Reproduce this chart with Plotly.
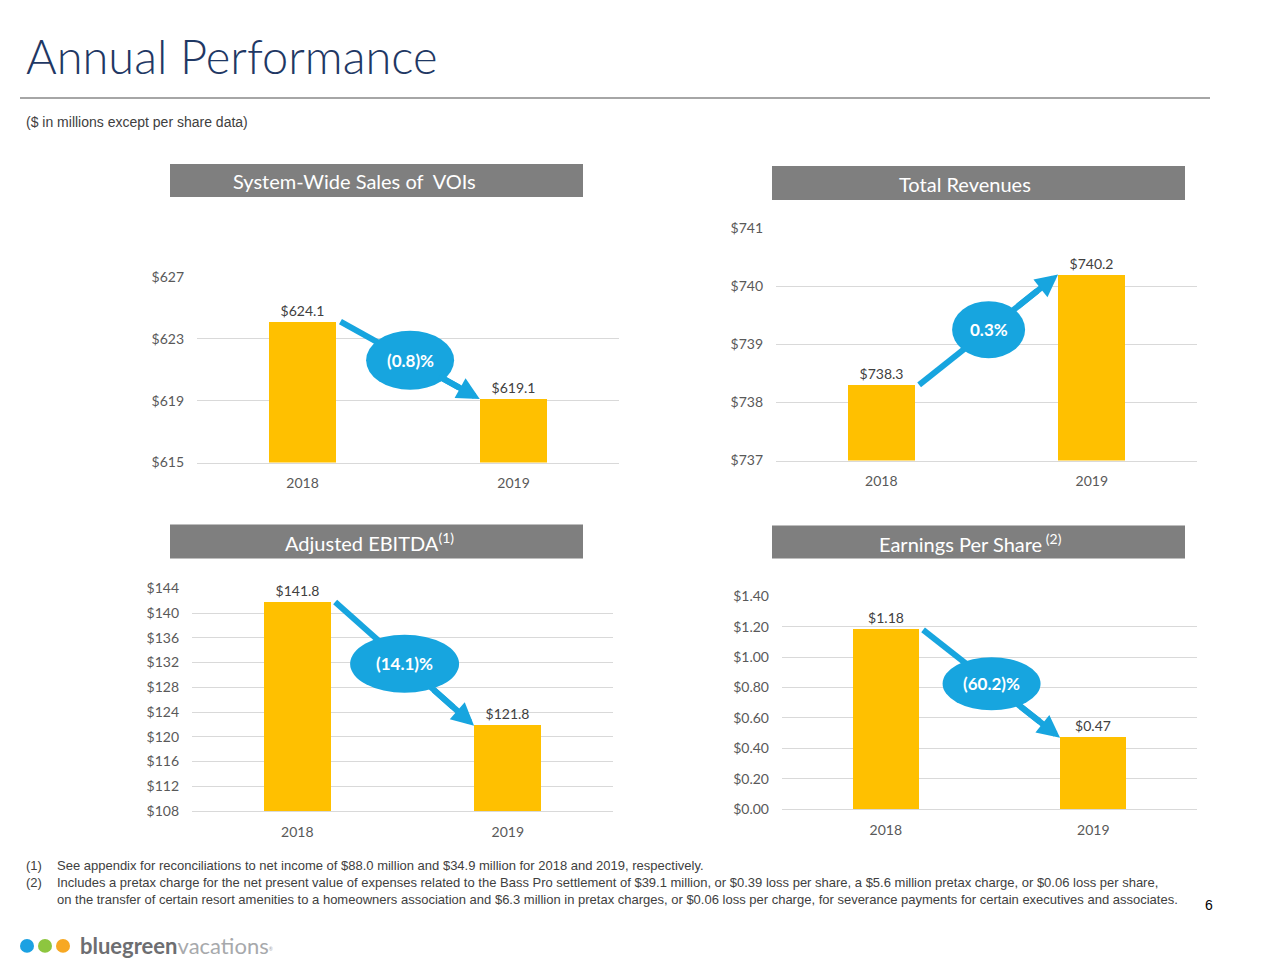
import plotly.graph_objects as go

# ---------------- data ----------------
years = ["2018", "2019"]
sales_vois = [624.1, 619.1]
total_revenues = [738.3, 740.2]
adj_ebitda = [141.8, 121.8]
eps = [1.18, 0.47]
change_labels = ["(0.8)%", "0.3%", "(14.1)%", "(60.2)%"]
panel_titles = ["System-Wide Sales of  VOIs", "Total Revenues",
                "Adjusted EBITDA<sup>(1)</sup>", "Earnings Per Share<sup> (2)</sup>"]

W, H = 1280, 960
BAR = "#FFC000"
BLUE = "#17A5DF"
GRID = "#D9D9D9"
TICK = "#595959"
FONT = "Lato, 'Open Sans', sans-serif"


def px(x):
    return x / W


def py(y):
    # vertical position on the page (pixels from top) -> paper fraction
    yy = y * (H + 16) / H - 8
    return 1 - yy / H


panels = [
    dict(vals=sales_vois, rng=[615, 627], dtick=4, dec=1, xd=(197, 619), yd=(276, 462),
         box=(170, 163, 583, 196), tx=354, ell=(88, 59)),
    dict(vals=total_revenues, rng=[737, 741], dtick=1, dec=1, xd=(776, 1197), yd=(227, 460),
         box=(772, 165, 1185, 199), tx=965, ell=(73, 57)),
    dict(vals=adj_ebitda, rng=[108, 144], dtick=4, dec=1, xd=(192, 613), yd=(588, 811),
         box=(170, 524, 583, 558), tx=369, ell=(109, 58)),
    dict(vals=eps, rng=[0, 1.4], dtick=0.2, dec=2, xd=(782, 1197), yd=(596, 809),
         box=(772, 525, 1185, 558), tx=970, ell=(98, 53)),
]

fig = go.Figure()
layout = {}
for i, p in enumerate(panels):
    n = "" if i == 0 else str(i + 1)
    xa, ya = "x" + n, "y" + n
    fig.add_trace(go.Bar(
        x=[0, 1], y=p["vals"], xaxis=xa, yaxis=ya, width=0.32,
        marker=dict(color=BAR, line=dict(width=0)),
        text=[f"${v:.{p['dec']}f}" for v in p["vals"]],
        textposition="outside", constraintext="none", cliponaxis=False,
        textfont=dict(family=FONT, size=14, color="#404040"),
        showlegend=False, hoverinfo="skip"))
    layout["xaxis" + n] = dict(
        domain=[px(p["xd"][0]), px(p["xd"][1])], anchor=ya, range=[-0.5, 1.5],
        tickvals=[0, 1], ticktext=years, showgrid=False, zeroline=False,
        showline=True, linecolor=GRID, linewidth=1, ticks="", ticklabelstandoff=8,
        tickfont=dict(family=FONT, size=14, color=TICK), fixedrange=True)
    layout["yaxis" + n] = dict(
        domain=[py(p["yd"][1]), py(p["yd"][0])], anchor=xa, range=p["rng"],
        dtick=p["dtick"], tick0=p["rng"][0], tickprefix="$",
        tickformat=".2f" if p["dec"] == 2 else "d",
        showgrid=True, gridcolor=GRID, gridwidth=1, zeroline=False, showline=False,
        ticks="", ticklabelstandoff=12,
        tickfont=dict(family=FONT, size=14, color=TICK), fixedrange=True)

fig.update_layout(**layout)

shapes = []
annotations = []

# header boxes and titles
for i, p in enumerate(panels):
    x0, y0, x1, y1 = p["box"]
    shapes.append(dict(type="rect", xref="paper", yref="paper",
                       x0=px(x0), x1=px(x1), y0=py(y1), y1=py(y0),
                       fillcolor="#7F7F7F", line=dict(width=0), layer="below"))
    annotations.append(dict(xref="paper", yref="paper", x=px(p["tx"]), y=py((y0 + y1) / 2 + 1),
                            text=panel_titles[i], showarrow=False, xanchor="center",
                            yanchor="middle",
                            font=dict(family="Lato, sans-serif", size=20, color="white")))

# change arrows + ellipses
for i, p in enumerate(panels):
    n = "" if i == 0 else str(i + 1)
    xa, ya = "x" + n, "y" + n
    v0, v1 = p["vals"]
    tx0, tx1 = 0.18, 0.84

    def pt(t):
        return tx0 + t * (tx1 - tx0), v0 + t * (v1 - v0)

    sx, sy = pt(0.85)
    shapes.append(dict(type="line", xref=xa, yref=ya, x0=tx0, y0=v0, x1=sx, y1=sy,
                       line=dict(color=BLUE, width=6), layer="above"))
    ax_, ay_ = pt(0.7)
    annotations.append(dict(xref=xa, yref=ya, axref=xa, ayref=ya, x=tx1, y=v1,
                            ax=ax_, ay=ay_, text="", showarrow=True, arrowhead=2,
                            arrowsize=0.75, arrowwidth=6, arrowcolor=BLUE, standoff=0))
    mx, my = pt(0.5)
    ew, eh = p["ell"]
    shapes.append(dict(type="circle", xref=xa, yref=ya, xsizemode="pixel", ysizemode="pixel",
                       xanchor=mx, yanchor=my, x0=-ew / 2, x1=ew / 2, y0=-eh / 2, y1=eh / 2,
                       fillcolor=BLUE, line=dict(width=0), layer="above"))
    annotations.append(dict(xref=xa, yref=ya, x=mx, y=my, text="<b>" + change_labels[i] + "</b>",
                            showarrow=False, xanchor="center", yanchor="middle",
                            font=dict(family=FONT, size=17, color="white")))

# title, rule, subtitle
annotations.append(dict(xref="paper", yref="paper", x=px(24), y=py(55), xanchor="left",
                        yanchor="middle", showarrow=False, text="Annual Performance",
                        font=dict(family="Lato", size=47, color="#1F3864", weight=300)))
shapes.append(dict(type="line", xref="paper", yref="paper", x0=px(20), x1=px(1210),
                   y0=py(97), y1=py(97), line=dict(color="#A6A6A6", width=2)))
annotations.append(dict(xref="paper", yref="paper", x=px(24), y=py(121), xanchor="left",
                        yanchor="middle", showarrow=False,
                        text="($ in millions except per share data)",
                        font=dict(family="'Liberation Sans', Arial, sans-serif", size=14,
                                  color="#404040")))

# footnotes
foot_nums = ["(1)", "(2)", ""]
foot_lines = [
    "See appendix for reconciliations to net income of $88.0 million and $34.9 million for 2018 and 2019, respectively.",
    "Includes a pretax charge for the net present value of expenses related to the Bass Pro settlement of $39.1 million, or $0.39 loss per share, a $5.6 million pretax charge, or $0.06 loss per share,",
    "on the transfer of certain resort amenities to a homeowners association and $6.3 million in pretax charges, or $0.06 loss per charge, for severance payments for certain executives and associates.",
]
foot_y = [866, 883, 900]
ffont = dict(family="'Liberation Sans', Arial, sans-serif", size=13, color="#404040")
for num, line, yy in zip(foot_nums, foot_lines, foot_y):
    if num:
        annotations.append(dict(xref="paper", yref="paper", x=px(24), y=py(yy), xanchor="left",
                                yanchor="middle", showarrow=False, text=num, font=ffont))
    annotations.append(dict(xref="paper", yref="paper", x=px(55), y=py(yy), xanchor="left",
                            yanchor="middle", showarrow=False, text=line, font=ffont))

annotations.append(dict(xref="paper", yref="paper", x=px(1209), y=py(905), xanchor="center",
                        yanchor="middle", showarrow=False, text="6",
                        font=dict(family="'Liberation Sans', Arial", size=14, color="#000000")))

# logo
for cx, col in zip([27, 45, 63], ["#1BA1E2", "#8DC63F", "#F7A823"]):
    shapes.append(dict(type="circle", xref="paper", yref="paper",
                       x0=px(cx - 7), x1=px(cx + 7), y0=py(946 + 7), y1=py(946 - 7),
                       fillcolor=col, line=dict(width=0)))
annotations.append(dict(xref="paper", yref="paper", x=px(78), y=py(946), xanchor="left",
                        yanchor="middle", showarrow=False,
                        text="<b><span style='color:#6D6E71'>bluegreen</span></b>"
                             "<span style='color:#A7A9AC'>vacations</span>"
                             "<span style='color:#A7A9AC;font-size:7px'><sup>®</sup></span>",
                        font=dict(family="Lato, 'Open Sans', sans-serif", size=22, color="#6D6E71")))

fig.update_layout(width=W, height=H, margin=dict(l=0, r=0, t=0, b=0),
                  paper_bgcolor="white", plot_bgcolor="white",
                  shapes=shapes, annotations=annotations, bargap=0, showlegend=False)

fig.write_html("out.html")
